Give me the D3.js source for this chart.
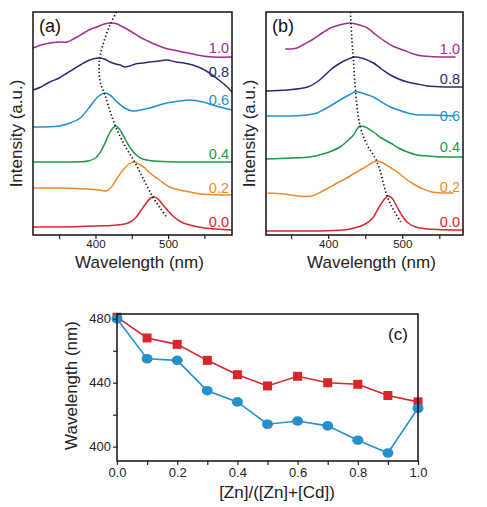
<!DOCTYPE html>
<html><head><meta charset="utf-8">
<script src="https://cdn.jsdelivr.net/npm/d3@7"></script>
<style>
html,body{margin:0;padding:0;background:#fff;}
svg text{font-family:Arial,"Liberation Sans",Helvetica,sans-serif;}
</style></head>
<body>
<svg id="c" width="487" height="507"></svg>
<script>
// ---------- DATA ----------
const seriesLabels = ["0.0","0.2","0.4","0.6","0.8","1.0"];
const seriesColors = ["#d8262b","#ee8a2c","#1b9a48","#2290d0","#2c2a72","#a02f8e"];

// Panel (a) spectra: [wavelength nm, intensity a.u. (offset stacked)]
const a00 = [[314,8],[350,8],[400,9],[430,10],[445,12],[455,17],[462,24],[470,32],[476,37],[481,38],[486,36],[492,31],[500,24],[508,18],[518,13],[530,10],[550,7],[588,5]];
const a02 = [[314,47],[350,47],[390,46],[405,45],[415,44],[422,48],[430,57],[438,65],[446,71],[453,73],[460,71],[468,67],[475,62],[488,55],[502,48],[516,45],[530,43],[545,41],[588,40]];
const a04 = [[314,73],[360,73],[390,74],[400,77],[406,82],[412,90],[418,100],[424,107],[428,109],[433,106],[440,97],[448,87],[456,80],[465,76],[480,74],[520,73],[588,73]];
const a06 = [[314,108],[350,109],[365,112],[379,117],[392,128],[403,138],[413,142],[420,140],[427,135],[440,127],[451,124],[462,125],[475,127],[498,132],[516,134],[530,135],[548,133],[566,129],[588,125]];
const a08 = [[314,145],[325,148],[337,153],[350,157],[361,162],[370,166],[379,170],[392,175],[404,177],[412,176],[420,173],[428,171],[434,170],[440,168],[447,169],[455,171],[465,172],[475,173],[488,174],[498,175],[511,173],[522,172],[534,170],[545,167],[557,162],[570,155],[580,149],[588,143]];
const a10 = [[314,187],[325,190],[337,192],[350,193],[361,193],[372,197],[384,202],[394,206],[402,208],[412,211],[422,212],[430,211],[438,208],[450,203],[461,198],[472,194],[484,190],[495,187],[507,185],[520,183],[534,181],[548,179],[562,178],[588,178]];
const aTrend = [[429,223],[420,210],[411,192],[406,177],[405,165],[407,152],[413,140],[420,124],[428,108],[440,90],[454,73],[466,56],[479,38],[490,26],[498,18]];

// Panel (b) spectra
const b00 = [[316,4],[380,4],[420,5],[435,7],[450,11],[460,17],[468,27],[475,35],[481,39],[487,36],[493,28],[500,19],[508,12],[518,8],[535,6],[582,5]];
const b02 = [[318,42],[340,41],[360,39],[378,39],[390,43],[400,47],[412,52],[425,57],[436,62],[448,67],[459,72],[466,74],[474,72],[485,67],[495,62],[505,56],[515,51],[525,47],[540,43],[569,42]];
const b04 = [[316,76],[349,77],[375,78],[393,81],[405,84],[416,88],[426,94],[434,100],[439,106],[443,109],[450,108],[461,103],[472,97],[484,92],[495,87],[507,83],[520,80],[534,79],[560,78],[582,78]];
const b06 = [[317,119],[350,119],[372,120],[385,122],[393,125],[405,130],[416,135],[428,140],[436,143],[441,143],[450,141],[461,138],[472,133],[484,128],[495,125],[507,122],[520,120],[534,120],[569,119]];
const b08 = [[316,144],[345,145],[372,148],[385,153],[393,158],[403,165],[412,170],[424,175],[436,178],[445,177],[461,172],[472,166],[484,160],[495,156],[507,153],[520,151],[534,149],[560,148],[582,148]];
const b10 = [[342,186],[350,186],[358,187],[368,191],[380,196],[392,202],[403,207],[415,210],[430,212],[442,210],[453,207],[463,201],[474,195],[487,189],[501,185],[515,181],[528,179],[550,178],[572,178]];
const bTrend = [[430,223],[432,195],[434,176],[437,143],[443,109],[452,91],[466,73],[480,38],[489,24],[498,13]];

const specTicks = [350,400,450,500,550];
const specTickLabels = [400,500];

// Panel (c)
const ratio = [0,0.1,0.2,0.3,0.4,0.5,0.6,0.7,0.8,0.9,1.0];
const peakB = [481,468,464,454,445,438,444,440,439,432,428];   // red squares
const peakA = [480,455,454,435,428,414,416,413,404,396,424];   // blue circles
const cYTicks = [400,420,440,460,480];
const cYLabels = [400,440,480];
const cXTicks = [0,0.1,0.2,0.3,0.4,0.5,0.6,0.7,0.8,0.9,1.0];
const cXLabels = [0,0.2,0.4,0.6,0.8,1.0];

// ---------- DRAW ----------
const svg = d3.select("#c");
const FONT_T = 17, FONT_K = 11.5;

function spectraPanel(opt){
  const {left,right,top,bottom,domain,curves,trend,tag,labelY,labelX} = opt;
  const g = svg.append("g");
  const x = d3.scaleLinear().domain(domain).range([left,right]);
  const y = d3.scaleLinear().domain([0,223]).range([bottom,top]);
  const line = d3.line().x(d=>x(d[0])).y(d=>y(d[1])).curve(d3.curveCatmullRom.alpha(0.5));
  curves.forEach((c,i)=>{
    g.append("path").attr("d",line(c)).attr("fill","none")
      .attr("stroke",seriesColors[i]).attr("stroke-width",1.5);
  });
  g.append("path").attr("d",line(trend)).attr("fill","none")
    .attr("stroke","#111").attr("stroke-width",1.7).attr("stroke-dasharray","1.3,2.4");
  curves.forEach((c,i)=>{
    g.append("text").attr("x",labelX).attr("y",labelY[i]).attr("dy","0.36em")
      .attr("text-anchor","end").attr("font-size",14.5).attr("fill",seriesColors[i])
      .text(seriesLabels[i]);
  });
  // axis
  const ax = d3.axisBottom(x).tickValues(specTicks).tickSize(4).tickPadding(1)
    .tickFormat(d=>specTickLabels.includes(d)?d:"");
  const axg = g.append("g").attr("transform",`translate(0,${bottom})`).call(ax);
  axg.select(".domain").remove();
  axg.selectAll("line").attr("stroke","#222").attr("stroke-width",1.2);
  axg.selectAll("text").attr("font-size",FONT_K).attr("fill","#222")
    .attr("font-family","Arial, Liberation Sans, sans-serif");
  g.append("rect").attr("x",left).attr("y",top).attr("width",right-left).attr("height",bottom-top)
    .attr("fill","none").attr("stroke","#111").attr("stroke-width",1.5);
  g.append("text").attr("x",(left+right)/2+7).attr("y",268).attr("text-anchor","middle")
    .attr("font-size",FONT_T).attr("fill","#222").text("Wavelength (nm)");
  g.append("text").attr("transform",`translate(${left-11},${(top+bottom)/2+10}) rotate(-90)`)
    .attr("text-anchor","middle").attr("font-size",FONT_T).attr("fill","#222").text("Intensity (a.u.)");
  g.append("text").attr("x",left+6).attr("y",top+20).attr("font-size",18).attr("fill","#111").text(tag);
}

spectraPanel({left:33,right:232,top:12,bottom:235,domain:[314,588],
  curves:[a00,a02,a04,a06,a08,a10],trend:aTrend,tag:"(a)",
  labelY:[222,188,154,100,72,48],labelX:229});
spectraPanel({left:266,right:463,top:12,bottom:235,domain:[316,582],
  curves:[b00,b02,b04,b06,b08,b10],trend:bTrend,tag:"(b)",
  labelY:[222,187,147,116,79,49],labelX:460});

// Panel (c)
(function(){
  const left=117,right=418,top=314,bottom=461;
  const g = svg.append("g");
  const x = d3.scaleLinear().domain([0,1]).range([left,right]);
  const y = d3.scaleLinear().domain([391,483]).range([bottom,top]);
  const line = d3.line().x((d,i)=>x(ratio[i])).y(d=>y(d));
  const red="#d8262b", blue="#2590cc";
  g.append("path").attr("d",line(peakA)).attr("fill","none").attr("stroke",blue).attr("stroke-width",1.6);
  g.append("path").attr("d",line(peakB)).attr("fill","none").attr("stroke",red).attr("stroke-width",1.6);
  g.selectAll(".sq").data(peakB).enter().append("rect")
    .attr("x",(d,i)=>x(ratio[i])-4.5).attr("y",d=>y(d)-4.5).attr("width",9).attr("height",9).attr("fill",red);
  g.selectAll(".ci").data(peakA).enter().append("ellipse")
    .attr("cx",(d,i)=>x(ratio[i])).attr("cy",d=>y(d)).attr("rx",5.5).attr("ry",4.8).attr("fill",blue);

  const ax = d3.axisBottom(x).tickValues(cXTicks).tickSize(4).tickPadding(3)
    .tickFormat(d=>cXLabels.some(v=>Math.abs(v-d)<1e-9)?d3.format(".1f")(d):"");
  const axg = g.append("g").attr("transform",`translate(0,${bottom})`).call(ax);
  axg.select(".domain").remove();
  axg.selectAll("line").attr("stroke","#222").attr("stroke-width",1.2);
  axg.selectAll("text").attr("font-size",13).attr("fill","#222")
    .attr("font-family","Arial, Liberation Sans, sans-serif");

  const ay = d3.axisLeft(y).tickValues(cYTicks).tickSize(4).tickPadding(2)
    .tickFormat(d=>cYLabels.includes(d)?d:"");
  const ayg = g.append("g").attr("transform",`translate(${left},0)`).call(ay);
  ayg.select(".domain").remove();
  ayg.selectAll("line").attr("stroke","#222").attr("stroke-width",1.2);
  ayg.selectAll("text").attr("font-size",13).attr("fill","#222")
    .attr("font-family","Arial, Liberation Sans, sans-serif");

  g.append("rect").attr("x",left).attr("y",top).attr("width",right-left).attr("height",bottom-top)
    .attr("fill","none").attr("stroke","#111").attr("stroke-width",1.5);
  g.append("text").attr("x",277).attr("y",498).attr("text-anchor","middle")
    .attr("font-size",FONT_T).attr("fill","#222").text("[Zn]/([Zn]+[Cd])");
  g.append("text").attr("transform",`translate(77,${(top+bottom)/2-2}) rotate(-90)`)
    .attr("text-anchor","middle").attr("font-size",FONT_T).attr("fill","#222").text("Wavelength (nm)");
  g.append("text").attr("x",398).attr("y",340).attr("text-anchor","middle")
    .attr("font-size",17).attr("fill","#111").text("(c)");
})();
</script>
</body></html>
